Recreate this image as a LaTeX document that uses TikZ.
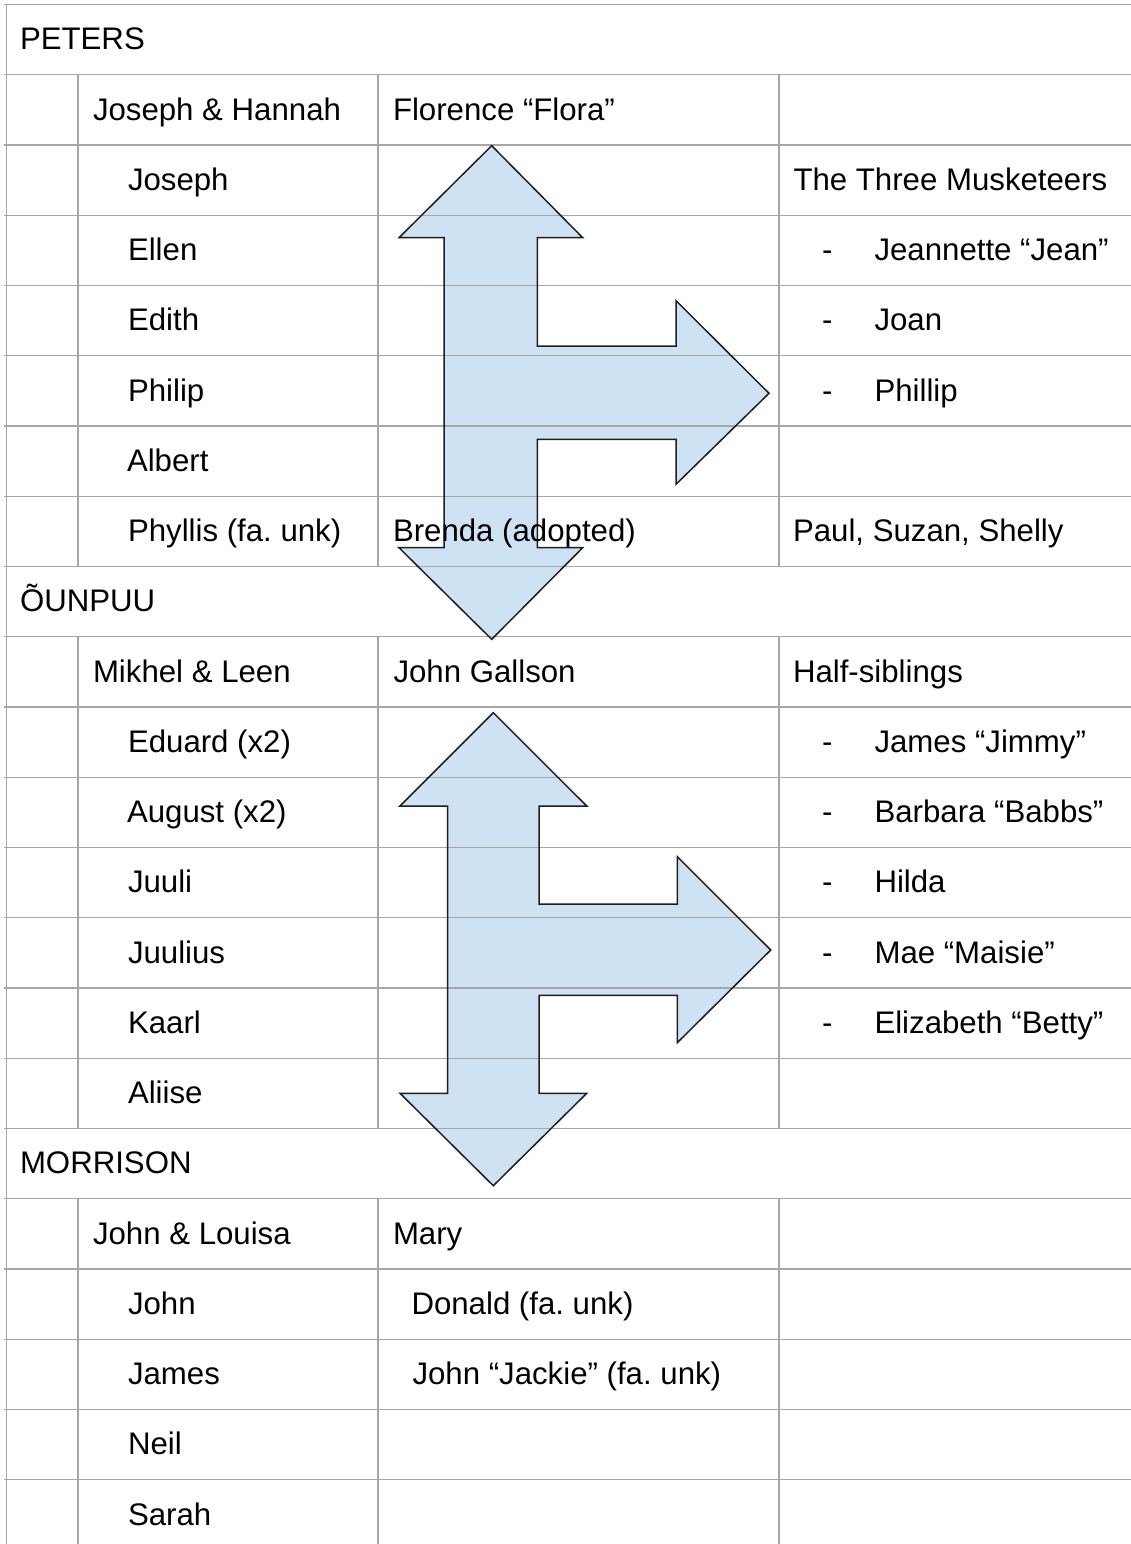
\documentclass[tikz,border=0pt]{standalone}
\usepackage{fontspec}
\setmainfont{Liberation Sans}
\frenchspacing
\definecolor{gridc}{RGB}{166,166,166}
\definecolor{arrowfill}{HTML}{CFE2F3}
\definecolor{arrowline}{RGB}{30,30,30}
\newcommand\mycell[4]{\node[txt] (#1) at (#2,{4.5+70.25*#3+45.3}) {#4};}
\begin{document}
\begin{tikzpicture}[x=1pt,y=-1pt,
  txt/.style={inner sep=0pt,outer sep=0pt,anchor=base west,font=\fontsize{31.2pt}{37pt}\selectfont\frenchspacing,text=black},
  gridline/.style={draw=gridc,line width=1.3pt},
  arrowshape/.style={draw=arrowline,line width=1.5pt,line join=miter}]
\useasboundingbox (0,0) rectangle (1131,1544);
\clip (0,0) rectangle (1131,1544);
% arrow paths
\def\arrowA{(491.7,145.7) -- (582.7,237.7) -- (537.3,237.7) -- (537.3,346) -- (676,346) -- (676,300.7) -- (769,393.3) -- (676,484.3) -- (676,439.3) -- (537.3,439.3) -- (537.3,547.7) -- (582.7,547.7) -- (491.7,639.3) -- (399,547.7) -- (444,547.7) -- (444,237.7) -- (399,237.7) -- cycle}
\def\arrowB{(493.3,712.7) -- (586.7,806) -- (539,806) -- (539,904) -- (677.3,904) -- (677.3,856.7) -- (770.7,950) -- (677.3,1042.7) -- (677.3,995.3) -- (539,995.3) -- (539,1093.3) -- (586.7,1093.3) -- (493.3,1185.7) -- (400,1093.3) -- (447.7,1093.3) -- (447.7,806) -- (400,806) -- cycle}
\fill[arrowfill] \arrowA;
\fill[arrowfill] \arrowB;
% grid
\foreach \i in {0,...,21} {
  \draw[gridline] (4,{4.5+70.25*\i}) -- (1135,{4.5+70.25*\i});
}
\draw[gridline] (6.7,4.5) -- (6.7,1550);
\foreach \x in {78,378,779} {
  \draw[gridline] (\x,{4.5+70.25*1}) -- (\x,{4.5+70.25*8});
  \draw[gridline] (\x,{4.5+70.25*9}) -- (\x,{4.5+70.25*16});
  \draw[gridline] (\x,{4.5+70.25*17}) -- (\x,1550);
}
% arrow outlines
\draw[arrowshape] \arrowA;
\draw[arrowshape] \arrowB;
% PETERS
\mycell{peters}{20}{0}{PETERS}
\mycell{josephhannah}{93}{1}{Joseph \& Hannah}
\mycell{flora}{393}{1}{Florence “Flora”}
\mycell{joseph}{128}{2}{Joseph}
\mycell{musk}{793.5}{2}{The Three Musketeers}
\mycell{ellen}{128}{3}{Ellen}
\mycell{d1}{822}{3}{-}
\mycell{jean}{874.5}{3}{Jeannette “Jean”}
\mycell{edith}{128}{4}{Edith}
\mycell{d2}{822}{4}{-}
\mycell{joan}{874.5}{4}{Joan}
\mycell{philip}{128}{5}{Philip}
\mycell{d3}{822}{5}{-}
\mycell{phillip}{874.5}{5}{Phillip}
\mycell{albert}{127}{6}{Albert}
\mycell{phyllis}{128}{7}{Phyllis (fa. unk)}
\mycell{brenda}{393}{7}{Brenda (adopted)}
\mycell{paul}{793}{7}{Paul, Suzan, Shelly}
% OUNPUU
\mycell{ounpuu}{20}{8}{ÕUNPUU}
\mycell{mikhel}{93}{9}{Mikhel \& Leen}
\mycell{gallson}{393.5}{9}{John Gallson}
\mycell{half}{793}{9}{Half-siblings}
\mycell{eduard}{128}{10}{Eduard (x2)}
\mycell{d4}{822}{10}{-}
\mycell{jimmy}{874.5}{10}{James “Jimmy”}
\mycell{august}{127}{11}{August (x2)}
\mycell{d5}{822}{11}{-}
\mycell{babbs}{874.5}{11}{Barbara “Babbs”}
\mycell{juuli}{128}{12}{Juuli}
\mycell{d6}{822}{12}{-}
\mycell{hilda}{874.5}{12}{Hilda}
\mycell{juulius}{128}{13}{Juulius}
\mycell{d7}{822}{13}{-}
\mycell{maisie}{874.5}{13}{Mae “Maisie”}
\mycell{kaarl}{128}{14}{Kaarl}
\mycell{d8}{822}{14}{-}
\mycell{betty}{874.5}{14}{Elizabeth “Betty”}
\mycell{aliise}{128}{15}{Aliise}
% MORRISON
\mycell{morrison}{20}{16}{MORRISON}
\mycell{johnlouisa}{93}{17}{John \& Louisa}
\mycell{mary}{393}{17}{Mary}
\mycell{john}{128}{18}{John}
\mycell{donald}{411.5}{18}{Donald (fa. unk)}
\mycell{james}{128}{19}{James}
\mycell{jackie}{412.5}{19}{John “Jackie” (fa. unk)}
\mycell{neil}{128}{20}{Neil}
\mycell{sarah}{128}{21}{Sarah}
\end{tikzpicture}
\end{document}
